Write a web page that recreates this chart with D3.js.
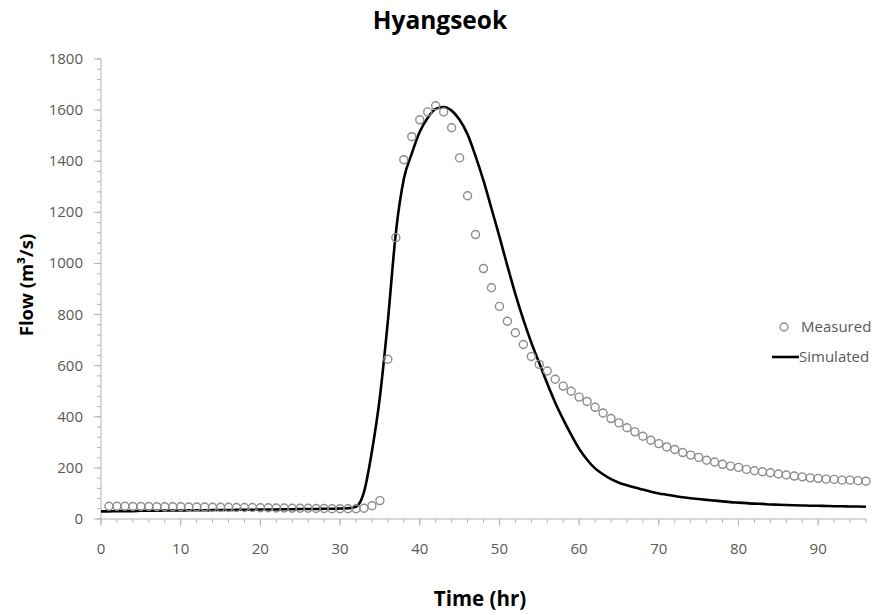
<!DOCTYPE html>
<html><head><meta charset="utf-8">
<script src="https://cdn.jsdelivr.net/npm/d3@7"></script>
<style>body{margin:0;background:#fff}svg{display:block}</style>
</head><body>
<svg id="chart" width="878" height="615"></svg>
<script>
const title = "Hyangseok";
const xLabel = "Time (hr)";
const yLabel = "Flow (m³/s)";
const seriesNames = ["Measured", "Simulated"];
const xTicks = [0, 10, 20, 30, 40, 50, 60, 70, 80, 90];
const yTicks = [0, 200, 400, 600, 800, 1000, 1200, 1400, 1600, 1800];

// Measured flow, hours 1..96
const measuredHours = d3.range(1, 97);
const measured = [
  50, 50, 50, 49, 49, 49, 48, 48, 48, 48,
  47, 47, 47, 46, 46, 46, 45, 45, 45, 44,
  44, 43, 43, 42, 42, 42, 41, 41, 40, 40,
  40, 40, 42, 52, 72,
  625, 1101, 1406, 1496, 1562, 1593, 1617, 1593, 1531, 1413,
  1265, 1113, 980, 905, 832, 774, 729, 683, 636, 605,
  579, 547, 520, 500, 477, 460, 437, 415, 393, 376,
  357, 341, 324, 308, 295, 282, 272, 260, 250, 241,
  230, 223, 214, 207, 202, 194, 189, 185, 181, 176,
  172, 168, 165, 161, 159, 156, 155, 152, 152, 150, 148
];

// Simulated flow, hours 0..96
const simulatedHours = d3.range(0, 97);
const simulated = [
  30, 30, 31, 31, 31, 32, 32, 32, 33, 33,
  33, 34, 34, 34, 35, 35, 35, 36, 36, 36,
  37, 37, 37, 38, 38, 39, 39, 39, 40, 40,
  41, 42, 48, 105, 265, 478, 775, 1120, 1330, 1430,
  1515, 1570, 1605, 1612, 1598, 1562, 1505, 1420, 1324, 1215,
  1105, 990, 880, 780, 690, 610, 530, 455, 390, 330,
  275, 232, 198, 175, 156, 142, 132, 123, 115, 107,
  100, 95, 90, 85, 81, 78, 75, 72, 69, 66,
  64, 62, 60, 59, 57, 56, 55, 54, 53, 52,
  52, 51, 50, 50, 49, 49, 48
];

const svg = d3.select("#chart");
const W = 878, H = 615;
const m = {left: 101, right: 12, top: 59, bottom: 96};
const x = d3.scaleLinear().domain([0, 96]).range([m.left, W - m.right]);
const y = d3.scaleLinear().domain([0, 1800]).range([H - m.bottom, m.top]);

const axisColor = "#b3b3b3";
const labelColor = "#595959";
const font = "'Open Sans', sans-serif";

// x axis
const gx = svg.append("g");
gx.append("line").attr("x1", x(0)).attr("x2", x(96)).attr("y1", y(0)).attr("y2", y(0))
  .attr("stroke", axisColor).attr("stroke-width", 1);
gx.selectAll("line.minor").data(d3.range(0, 97, 2)).join("line").attr("class","minor")
  .attr("x1", d => x(d)).attr("x2", d => x(d)).attr("y1", y(0)).attr("y2", y(0) + 4)
  .attr("stroke", axisColor);
gx.selectAll("line.major").data(xTicks).join("line").attr("class","major")
  .attr("x1", d => x(d)).attr("x2", d => x(d)).attr("y1", y(0)).attr("y2", y(0) + 7)
  .attr("stroke", axisColor);
gx.selectAll("text").data(xTicks).join("text")
  .attr("x", d => x(d)).attr("y", y(0) + 35).attr("text-anchor", "middle")
  .attr("font-family", font).attr("font-size", 15).attr("fill", labelColor).text(d => d);

// y axis
const gy = svg.append("g");
gy.append("line").attr("x1", x(0)).attr("x2", x(0)).attr("y1", y(0)).attr("y2", y(1800))
  .attr("stroke", axisColor);
gy.selectAll("line.minor").data(d3.range(0, 1801, 40)).join("line").attr("class","minor")
  .attr("x1", x(0) - 4).attr("x2", x(0)).attr("y1", d => y(d)).attr("y2", d => y(d))
  .attr("stroke", axisColor);
gy.selectAll("line.major").data(yTicks).join("line").attr("class","major")
  .attr("x1", x(0) - 7).attr("x2", x(0)).attr("y1", d => y(d)).attr("y2", d => y(d))
  .attr("stroke", axisColor);
gy.selectAll("text").data(yTicks).join("text")
  .attr("x", x(0) - 18).attr("y", d => y(d) + 5).attr("text-anchor", "end")
  .attr("font-family", font).attr("font-size", 15).attr("fill", labelColor).text(d => d);

// simulated line
const simData = simulatedHours.map((h, i) => [h, simulated[i]]);
const line = d3.line().x(d => x(d[0])).y(d => y(d[1])).curve(d3.curveMonotoneX);
svg.append("path").datum(simData).attr("d", line)
  .attr("fill", "none").attr("stroke", "#000").attr("stroke-width", 2.6);

// measured markers
const measData = measuredHours.map((h, i) => [h, measured[i]]);
svg.append("g").selectAll("circle").data(measData).join("circle")
  .attr("cx", d => x(d[0])).attr("cy", d => y(d[1])).attr("r", 4)
  .attr("fill", "none").attr("stroke", "#8c8c8c").attr("stroke-width", 1.4);

// legend
const lg = svg.append("g");
lg.append("circle").attr("cx", 784).attr("cy", 327).attr("r", 4)
  .attr("fill", "none").attr("stroke", "#8c8c8c").attr("stroke-width", 1.4);
lg.append("text").attr("x", 801).attr("y", 332).attr("font-family", font).attr("font-size", 15)
  .attr("fill", labelColor).text(seriesNames[0]);
lg.append("line").attr("x1", 772).attr("x2", 799).attr("y1", 357).attr("y2", 357)
  .attr("stroke", "#000").attr("stroke-width", 2.6);
lg.append("text").attr("x", 799).attr("y", 362).attr("font-family", font).attr("font-size", 15)
  .attr("fill", labelColor).text(seriesNames[1]);

// titles
svg.append("text").attr("x", 440).attr("y", 29).attr("text-anchor", "middle")
  .attr("font-family", font).attr("font-weight", "bold").attr("font-size", 24.5)
  .attr("fill", "#000").text(title);
svg.append("text").attr("x", 480).attr("y", 606).attr("text-anchor", "middle")
  .attr("font-family", font).attr("font-weight", "bold").attr("font-size", 20.5)
  .attr("fill", "#000").text(xLabel);
svg.append("text").attr("transform", "translate(33,285) rotate(-90)").attr("text-anchor", "middle")
  .attr("font-family", font).attr("font-weight", "bold").attr("font-size", 18.5)
  .attr("fill", "#000").text(yLabel);
</script>
</body></html>
